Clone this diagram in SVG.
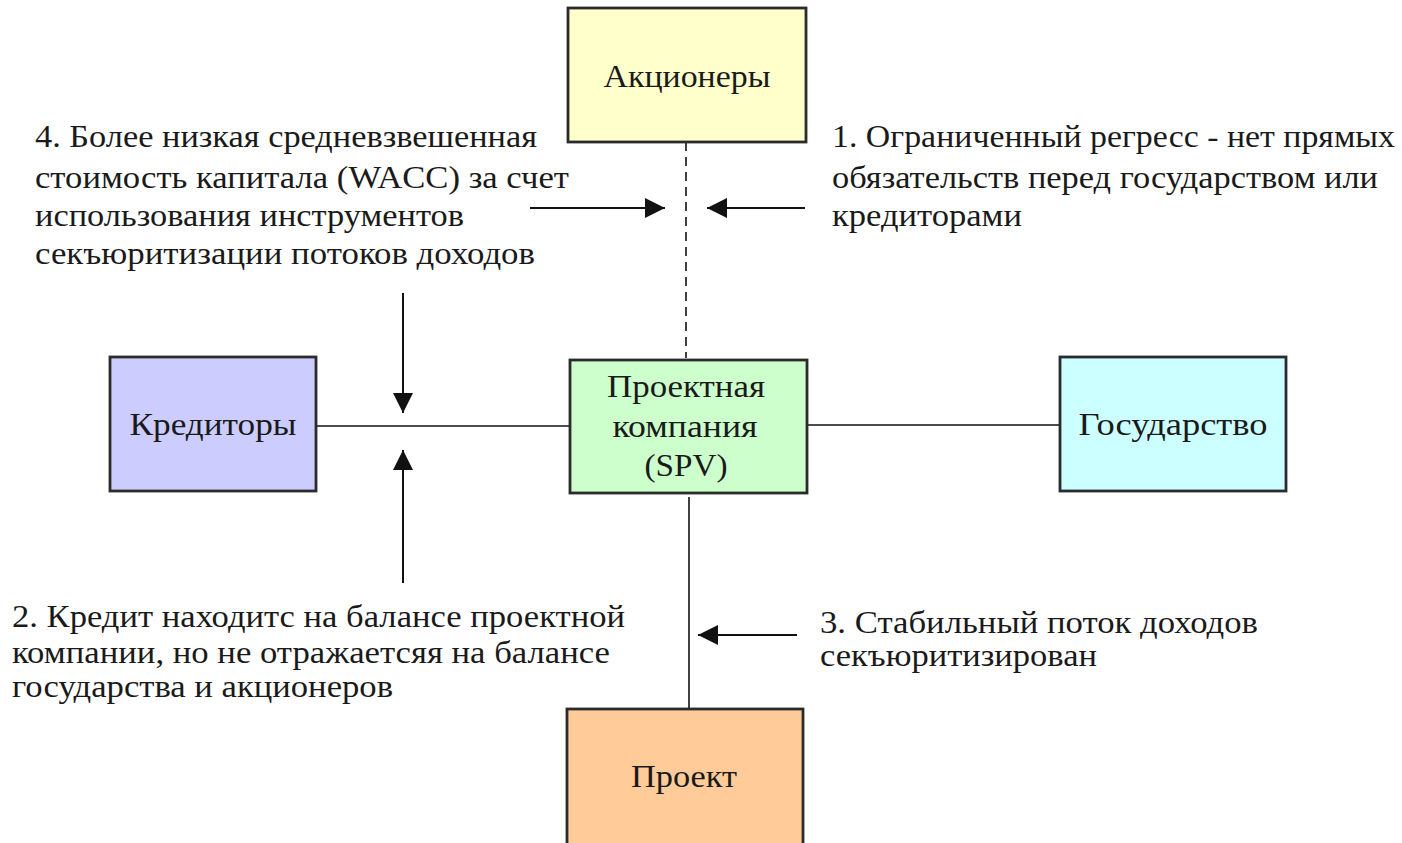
<svg xmlns="http://www.w3.org/2000/svg" width="1402" height="843" viewBox="0 0 1402 843">
<defs>
<style>
.box{stroke:#2b2b2b;stroke-width:2.8}
.t{font-family:"Liberation Serif","Times New Roman",serif;font-size:31px;fill:#1a1a1a}
.n{font-family:"Liberation Serif","Times New Roman",serif;font-size:31px;fill:#1a1a1a;text-anchor:middle}
.c{stroke:#111;stroke-width:1.6;fill:none}
.a{stroke:#111;stroke-width:2;fill:none}
</style>
<marker id="ah2" viewBox="0 0 20 20" refX="20" refY="10" markerWidth="20" markerHeight="20" markerUnits="userSpaceOnUse" orient="auto">
<path d="M0,0 L20,10 L0,20 Z" fill="#111"/>
</marker>
</defs>
<rect width="1402" height="843" fill="#ffffff"/>
<g id="connectors">
<line class="c" x1="316" y1="426" x2="570" y2="426"/>
<line class="c" x1="807" y1="425" x2="1060" y2="425"/>
<line class="c" x1="686" y1="142" x2="686" y2="358" stroke-dasharray="9,6"/>
<line class="c" x1="689" y1="497" x2="689" y2="709"/>
<line class="a" x1="530" y1="208" x2="665" y2="208" marker-end="url(#ah2)"/>
<line class="a" x1="805" y1="208" x2="707" y2="208" marker-end="url(#ah2)"/>
<line class="a" x1="403" y1="293" x2="403" y2="413" marker-end="url(#ah2)"/>
<line class="a" x1="403" y1="583" x2="403" y2="450" marker-end="url(#ah2)"/>
<line class="a" x1="797" y1="635" x2="698" y2="635" marker-end="url(#ah2)"/>
</g>
<g id="shareholders">
<rect class="box" x="568" y="8" width="238" height="134" fill="#ffffcc"/>
<text class="n" x="687" y="87" textLength="167" lengthAdjust="spacingAndGlyphs">Акционеры</text>
</g>
<g id="creditors">
<rect class="box" x="110" y="357" width="206" height="134" fill="#ccccff"/>
<text class="n" x="213" y="435" textLength="167" lengthAdjust="spacingAndGlyphs">Кредиторы</text>
</g>
<g id="spv">
<rect class="box" x="570" y="360" width="237" height="133" fill="#ccffcc"/>
<text class="n" x="686" y="397" textLength="158" lengthAdjust="spacingAndGlyphs">Проектная</text>
<text class="n" x="685" y="437" textLength="145" lengthAdjust="spacingAndGlyphs">компания</text>
<text class="n" x="686" y="476" textLength="83" lengthAdjust="spacingAndGlyphs">(SPV)</text>
</g>
<g id="state">
<rect class="box" x="1060" y="357" width="226" height="134" fill="#ccffff"/>
<text class="n" x="1173" y="435" textLength="189" lengthAdjust="spacingAndGlyphs">Государство</text>
</g>
<g id="project">
<rect class="box" x="567" y="709" width="236" height="140" fill="#ffcc99"/>
<text class="n" x="684" y="787" textLength="106" lengthAdjust="spacingAndGlyphs">Проект</text>
</g>
<g id="note4">
<text class="t" x="35" y="147" textLength="502" lengthAdjust="spacingAndGlyphs">4. Более низкая средневзвешенная</text>
<text class="t" x="35" y="188" textLength="534" lengthAdjust="spacingAndGlyphs">стоимость капитала (WACC) за счет</text>
<text class="t" x="35" y="226" textLength="429" lengthAdjust="spacingAndGlyphs">использования инструментов</text>
<text class="t" x="35" y="264" textLength="500" lengthAdjust="spacingAndGlyphs">секъюритизации потоков доходов</text>
</g>
<g id="note1">
<text class="t" x="832" y="147" textLength="563" lengthAdjust="spacingAndGlyphs">1. Ограниченный регресс - нет прямых</text>
<text class="t" x="832" y="188" textLength="546" lengthAdjust="spacingAndGlyphs">обязательств перед государством или</text>
<text class="t" x="832" y="226" textLength="190" lengthAdjust="spacingAndGlyphs">кредиторами</text>
</g>
<g id="note2">
<text class="t" x="12" y="627" textLength="613" lengthAdjust="spacingAndGlyphs">2. Кредит находитс на балансе проектной</text>
<text class="t" x="12" y="663" textLength="598" lengthAdjust="spacingAndGlyphs">компании, но не отражаетсяя на балансе</text>
<text class="t" x="12" y="697" textLength="381" lengthAdjust="spacingAndGlyphs">государства и акционеров</text>
</g>
<g id="note3">
<text class="t" x="820" y="633" textLength="438" lengthAdjust="spacingAndGlyphs">3. Стабильный поток доходов</text>
<text class="t" x="820" y="666" textLength="277" lengthAdjust="spacingAndGlyphs">секъюритизирован</text>
</g>
</svg>
